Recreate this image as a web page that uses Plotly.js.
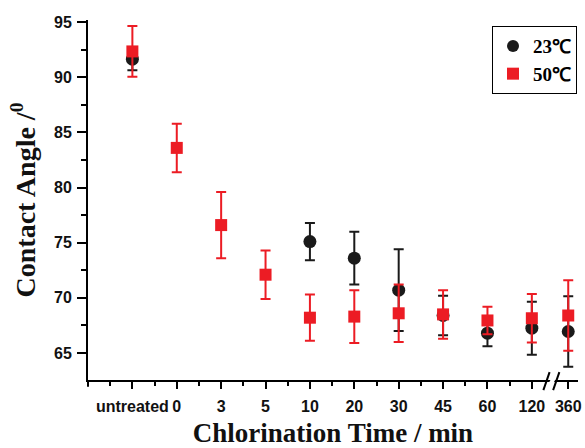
<!DOCTYPE html>
<html>
<head>
<meta charset="utf-8">
<script src="https://cdn.plot.ly/plotly-3.0.1.min.js"></script>
<style>
html,body{margin:0;padding:0;background:#fff;}
#chart{width:585px;height:448px;}
</style>
</head>
<body>
<div id="chart"></div>
<script>
// Categories (chlorination time)
const categories = ['untreated', '0', '3', '5', '10', '20', '30', '45', '60', '120', '360'];
// 23 °C series (contact angle, degrees) and its error
const angle23 = [91.65, null, null, null, 75.1, 73.6, 70.7, 68.4, 66.8, 67.25, 66.95];
const err23   = [1.0,   null, null, null, 1.7,  2.4,  3.7,  1.8,  1.2,  2.4,   3.2];
// 50 °C series
const angle50 = [92.35, 83.6, 76.6, 72.1, 68.2, 68.3, 68.6, 68.5, 67.95, 68.15, 68.4];
const err50   = [2.3,   2.2,  3.0,  2.2,  2.1,  2.4,  2.6,  2.2,  1.25,  2.2,   3.2];
const seriesNames = ['23\u2103', '50\u2103'];
const yTickVals = [65, 70, 75, 80, 85, 90, 95];

// axis break after index 9 (compressed spacing for the last category)
const breakIndex = 9;
const afterBreakStep = 0.82;
function pos(i) { return i <= breakIndex ? i : breakIndex + afterBreakStep * (i - breakIndex); }
const xs = categories.map((c, i) => pos(i));

const minorVals = [];
for (let i = -1; i < breakIndex; i++) minorVals.push(i + 0.5);

const red = '#ec1c24';
const black = '#1a1a1a';

const traces = [
  {
    x: xs, y: angle23, name: seriesNames[0], type: 'scatter', mode: 'markers',
    marker: {symbol: 'circle', size: 13, color: black},
    error_y: {type: 'data', array: err23, visible: true, color: black, thickness: 2, width: 5},
    cliponaxis: false
  },
  {
    x: xs, y: angle50, name: seriesNames[1], type: 'scatter', mode: 'markers',
    marker: {symbol: 'square', size: 12, color: red},
    error_y: {type: 'data', array: err50, visible: true, color: red, thickness: 2, width: 5},
    cliponaxis: false
  }
];

const breakX = 9.46;
const layout = {
  width: 585, height: 448,
  margin: {l: 88, r: 7, t: 20, b: 68},
  paper_bgcolor: '#fff', plot_bgcolor: '#fff',
  showlegend: true,
  legend: {
    x: 0.998, xanchor: 'right', y: 0.983, yanchor: 'top',
    bordercolor: '#000', borderwidth: 1, bgcolor: '#fff',
    font: {family: 'Liberation Serif, Times New Roman, serif', size: 19, color: '#000', weight: 'bold'},
    itemsizing: 'constant', tracegroupgap: 0, itemwidth: 30
  },
  xaxis: {
    range: [-1, 10.04],
    tickmode: 'array', tickvals: xs, ticktext: categories,
    ticks: 'outside', ticklen: 7, tickwidth: 2, tickcolor: '#000',
    minor: {tickmode: 'array', tickvals: minorVals, ticks: 'outside', ticklen: 4, tickwidth: 2, tickcolor: '#000'},
    showline: true, linewidth: 2, linecolor: '#000', mirror: false,
    showgrid: false, zeroline: false,
    tickfont: {family: 'Liberation Sans, Arial, sans-serif', size: 16, color: '#111', weight: 'bold'},
    ticklabelstandoff: 4,
    title: {text: 'Chlorination Time / min', standoff: 12,
            font: {family: 'Liberation Serif, Times New Roman, serif', size: 27, color: '#111', weight: 'bold'}}
  },
  yaxis: {
    range: [62.55, 95.2],
    tickmode: 'array', tickvals: yTickVals,
    ticks: 'outside', ticklen: 9, tickwidth: 2, tickcolor: '#000',
    minor: {dtick: 2.5, tick0: 62.5, ticks: 'outside', ticklen: 5, tickwidth: 2, tickcolor: '#000'},
    showline: true, linewidth: 2, linecolor: '#000', mirror: false,
    showgrid: false, zeroline: false,
    tickfont: {family: 'Liberation Sans, Arial, sans-serif', size: 16, color: '#111', weight: 'bold'},
    ticklabelstandoff: 2,
    title: {text: 'Contact Angle /<sup>0</sup>', standoff: 10,
            font: {family: 'Liberation Serif, Times New Roman, serif', size: 28, color: '#111', weight: 'bold'}}
  },
  shapes: [
    {type: 'line', xref: 'paper', yref: 'paper', x0: 0, x1: 0, y0: 0, y1: -0.019,
     line: {color: '#000', width: 2}, layer: 'above'},
    {type: 'line', xref: 'x', yref: 'paper', x0: breakX - 0.12, x1: breakX + 0.12, y0: -0.028, y1: 0.022,
     line: {color: '#fff', width: 4}, layer: 'above'},
    {type: 'line', xref: 'x', yref: 'paper', x0: breakX - 0.2, x1: breakX - 0.06, y0: -0.028, y1: 0.022,
     line: {color: '#000', width: 2}, layer: 'above'},
    {type: 'line', xref: 'x', yref: 'paper', x0: breakX + 0.02, x1: breakX + 0.16, y0: -0.028, y1: 0.022,
     line: {color: '#000', width: 2}, layer: 'above'}
  ]
};

Plotly.newPlot('chart', traces, layout, {displayModeBar: false, staticPlot: true});
</script>
</body>
</html>
